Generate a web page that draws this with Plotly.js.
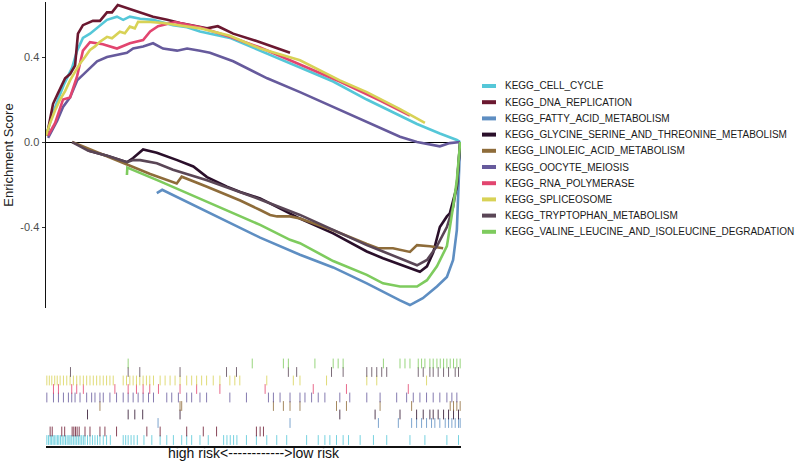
<!DOCTYPE html>
<html>
<head>
<meta charset="utf-8">
<script src="https://cdn.plot.ly/plotly-3.0.1.min.js"></script>
<style>html,body{margin:0;padding:0;background:#fff;}#chart{width:800px;height:463px;}</style>
</head>
<body>
<div id="chart"></div>
<script>
// ---- Gene-set names (legend order) ----
const geneSets = [
  "KEGG_CELL_CYCLE",
  "KEGG_DNA_REPLICATION",
  "KEGG_FATTY_ACID_METABOLISM",
  "KEGG_GLYCINE_SERINE_AND_THREONINE_METABOLISM",
  "KEGG_LINOLEIC_ACID_METABOLISM",
  "KEGG_OOCYTE_MEIOSIS",
  "KEGG_RNA_POLYMERASE",
  "KEGG_SPLICEOSOME",
  "KEGG_TRYPTOPHAN_METABOLISM",
  "KEGG_VALINE_LEUCINE_AND_ISOLEUCINE_DEGRADATION"
];
const setColors = ["#55C7D8","#6B1830","#5E8EC2","#2A0F2A","#8E6C3A","#665A9C","#E2456F","#D8D256","#5A4656","#7ECB5E"];

// ---- Running enrichment score (rank position 0..1000, ES) ----
const cellCycleX = [2,14,29,43,53,63,75,89,106,125,147,171,186,202,227,258,306,340,371,443,516,612,692,773,853,894,949,990,998];
const cellCycleY = [0.04,0.12,0.20,0.27,0.31,0.35,0.43,0.49,0.51,0.54,0.575,0.59,0.575,0.59,0.58,0.575,0.55,0.54,0.52,0.49,0.43,0.354,0.285,0.20,0.125,0.085,0.04,0.01,0.0];

const dnaRepX = [2,17,29,46,58,70,77,89,113,130,147,159,173,195,227,258,292,323,388,414,451,516,588];
const dnaRepY = [0.03,0.18,0.23,0.30,0.32,0.36,0.51,0.55,0.57,0.57,0.61,0.61,0.645,0.63,0.61,0.59,0.575,0.56,0.535,0.545,0.51,0.47,0.42];

const fattyX = [267,280,516,612,692,773,853,877,908,942,966,981,990,993,998];
const fattyY = [-0.24,-0.225,-0.45,-0.53,-0.59,-0.665,-0.745,-0.767,-0.735,-0.68,-0.635,-0.555,-0.414,-0.26,0.0];

const glycineX = [101,147,195,210,234,267,316,355,388,436,468,516,612,692,773,812,901,918,933,949,966,973,990,998];
const glycineY = [-0.04,-0.065,-0.095,-0.075,-0.035,-0.05,-0.085,-0.115,-0.165,-0.21,-0.235,-0.265,-0.36,-0.43,-0.515,-0.547,-0.61,-0.585,-0.52,-0.40,-0.35,-0.336,-0.21,0.0];

const linoleicX = [63,195,251,315,327,388,468,516,540,557,588,612,692,773,800,836,877,894,925,957];
const linoleicY = [0.0,-0.108,-0.15,-0.195,-0.163,-0.21,-0.275,-0.32,-0.343,-0.35,-0.35,-0.36,-0.415,-0.48,-0.50,-0.50,-0.517,-0.485,-0.49,-0.50];

const oocyteX = [5,27,41,58,75,89,106,123,147,171,195,210,234,258,282,316,340,371,395,451,533,612,692,773,853,894,933,949,973,998];
const oocyteY = [0.02,0.10,0.165,0.21,0.29,0.315,0.35,0.38,0.40,0.41,0.42,0.44,0.45,0.465,0.44,0.43,0.44,0.43,0.42,0.38,0.30,0.235,0.165,0.095,0.025,0.0,-0.015,-0.02,-0.005,0.0];

const rnaPolX = [5,22,41,58,75,89,106,137,171,202,234,251,270,311,371,443,516,612,708,805,877];
const rnaPolY = [0.03,0.09,0.20,0.21,0.31,0.43,0.47,0.46,0.44,0.465,0.48,0.52,0.545,0.565,0.54,0.495,0.445,0.365,0.285,0.195,0.125];

const spliceX = [0,10,22,34,46,58,70,82,94,106,118,130,147,159,178,190,202,214,222,251,282,323,371,443,516,612,708,773,853,913];
const spliceY = [0.03,0.09,0.15,0.20,0.24,0.29,0.33,0.37,0.40,0.433,0.45,0.472,0.495,0.488,0.519,0.512,0.543,0.535,0.566,0.565,0.56,0.55,0.535,0.50,0.44,0.385,0.29,0.235,0.155,0.09];

const tryptoX = [63,101,147,195,210,227,267,306,388,468,516,612,692,773,812,894,918,942,966,981,990,998];
const tryptoY = [0.0,-0.04,-0.065,-0.095,-0.085,-0.085,-0.10,-0.13,-0.18,-0.235,-0.27,-0.343,-0.415,-0.485,-0.515,-0.58,-0.555,-0.49,-0.40,-0.305,-0.20,0.0];

const valineX = [195,196,275,388,516,588,612,692,773,812,853,894,918,942,966,981,990,998];
const valineY = [-0.155,-0.12,-0.185,-0.28,-0.39,-0.46,-0.476,-0.56,-0.625,-0.665,-0.68,-0.68,-0.65,-0.585,-0.49,-0.305,-0.18,0.0];

// ---- Gene hit positions (rank) for the rug panel ----
const cellCycleHits = [2,6,10,13,17,20,24,28,31,35,39,43,47,51,55,58,62,66,70,74,78,82,86,90,94,100,106,112,118,124,130,138,146,155,186,192,198,205,212,220,236,255,275,291,307,327,339,351,371,391,428,436,444,452,460,483,507,532,556,580,628,656,672,684,700,716,729,757,789,821,877,913,966,994];
const dnaRepHits = [10,15,38,45,63,67,71,75,80,94,106,130,142,170,243,275,339,379,411,507,516,524];
const fattyHits = [270,588,801,849,881,893,905,917,929,937,949,962,970,978,986,994,998];
const glycineHits = [100,198,214,233,323,708,793,853,893,909,925,933,945,958,970,982,994];
const linoleicHits = [130,323,327,548,572,588,612,700,724,805,881,974,982,990,998];
const oocyteHits = [2,18,30,42,54,62,70,82,98,110,118,130,138,154,170,186,198,210,222,234,247,259,291,303,319,339,351,371,387,443,483,536,548,564,588,612,624,640,656,672,708,732,773,805,845,869,885,901,917,933,949,966,978,990];
const rnaPolHits = [18,30,62,74,90,166,198,218,234,250,271,323,363,419,528,644,724,873];
const spliceHits = [2,8,14,21,27,34,42,50,58,66,74,82,90,98,106,114,122,130,138,146,154,162,186,194,202,210,218,226,234,242,250,259,275,287,299,311,323,339,351,363,375,387,403,419,443,455,467,532,596,612,676,773,797,917];
const tryptoHits = [59,198,226,323,435,459,584,604,688,716,773,785,797,809,821,897,909,925,933,945,958,970,986,994];
const valineHits = [198,497,572,584,648,692,704,716,813,853,865,877,897,905,913,925,933,942,950,958,966,974,982,990,998];

const curvesX = [cellCycleX,dnaRepX,fattyX,glycineX,linoleicX,oocyteX,rnaPolX,spliceX,tryptoX,valineX];
const curvesY = [cellCycleY,dnaRepY,fattyY,glycineY,linoleicY,oocyteY,rnaPolY,spliceY,tryptoY,valineY];
const hits = [cellCycleHits,dnaRepHits,fattyHits,glycineHits,linoleicHits,oocyteHits,rnaPolHits,spliceHits,tryptoHits,valineHits];

const traces = [];
geneSets.forEach((name,i)=>{
  traces.push({
    type:'scatter', mode:'lines', name:name,
    x:curvesX[i], y:curvesY[i], xaxis:'x', yaxis:'y',
    line:{color:setColors[i], width:2.6}, showlegend:false, hoverinfo:'skip'
  });
});
geneSets.forEach((name,i)=>{
  traces.push({
    type:'scatter', mode:'markers', name:name,
    x:hits[i], y:hits[i].map(()=>i+1), xaxis:'x2', yaxis:'y2',
    marker:{symbol:'line-ns-open', size:7, color:setColors[i], opacity:0.8, line:{color:setColors[i], width:1}},
    showlegend:false, hoverinfo:'skip'
  });
});

// custom legend (annotations + swatches, paper coords)
const PLOT_TOP = 2, PLOT_BOTTOM = 446, PLOT_L = 46, PLOT_R = 461;
const pxX = px => (px - PLOT_L)/(PLOT_R - PLOT_L);
const pxY = py => (PLOT_BOTTOM - py)/(PLOT_BOTTOM - PLOT_TOP);
const annotations = [], shapes = [];
geneSets.forEach((name,i)=>{
  const py = 86 + 16.2*i;
  annotations.push({xref:'paper', yref:'paper', x:pxX(503), y:pxY(py), xanchor:'left', yanchor:'middle',
    text:name, showarrow:false, font:{family:'Liberation Sans, Arial, sans-serif', size:10, color:'#1a1a1a'}});
  shapes.push({type:'line', xref:'paper', yref:'paper', x0:pxX(482), x1:pxX(496), y0:pxY(py), y1:pxY(py),
    line:{color:setColors[i], width:4}});
});

const layout = {
  width:800, height:463,
  margin:{l:PLOT_L, r:800-PLOT_R, t:PLOT_TOP, b:463-PLOT_BOTTOM},
  paper_bgcolor:'#fff', plot_bgcolor:'#fff',
  font:{family:'Liberation Sans, Arial, sans-serif', color:'#222'},
  showlegend:false,
  xaxis:{domain:[0,1], range:[0,1000], anchor:'y', showgrid:false, zeroline:false, showline:false, showticklabels:false, ticks:''},
  yaxis:{domain:[0.3108,1], range:[-0.781,0.659], anchor:'x', showgrid:false,
    zeroline:true, zerolinecolor:'#000', zerolinewidth:1,
    showline:true, linecolor:'#111', linewidth:1.5,
    tickvals:[-0.4,0,0.4], ticktext:['-0.4','0.0','0.4'], ticks:'outside', ticklen:3, tickcolor:'#333',
    tickfont:{size:11, color:'#4d4d4d'},
    title:{text:'Enrichment Score', font:{size:13, color:'#222'}, standoff:4}},
  xaxis2:{domain:[0,1], range:[0,1000], anchor:'y2', showgrid:false, zeroline:false,
    showline:true, linecolor:'#111', linewidth:1.5, showticklabels:false, ticks:'',
    title:{text:'high risk<------------>low risk', font:{size:14, color:'#111'}, standoff:1}},
  yaxis2:{domain:[0,0.2027], range:[0.294,10.88], anchor:'x2', showgrid:false, zeroline:false,
    showline:false, showticklabels:false, ticks:''},
  annotations:annotations, shapes:shapes
};

Plotly.newPlot('chart', traces, layout, {displayModeBar:false, staticPlot:true});
</script>
</body>
</html>
